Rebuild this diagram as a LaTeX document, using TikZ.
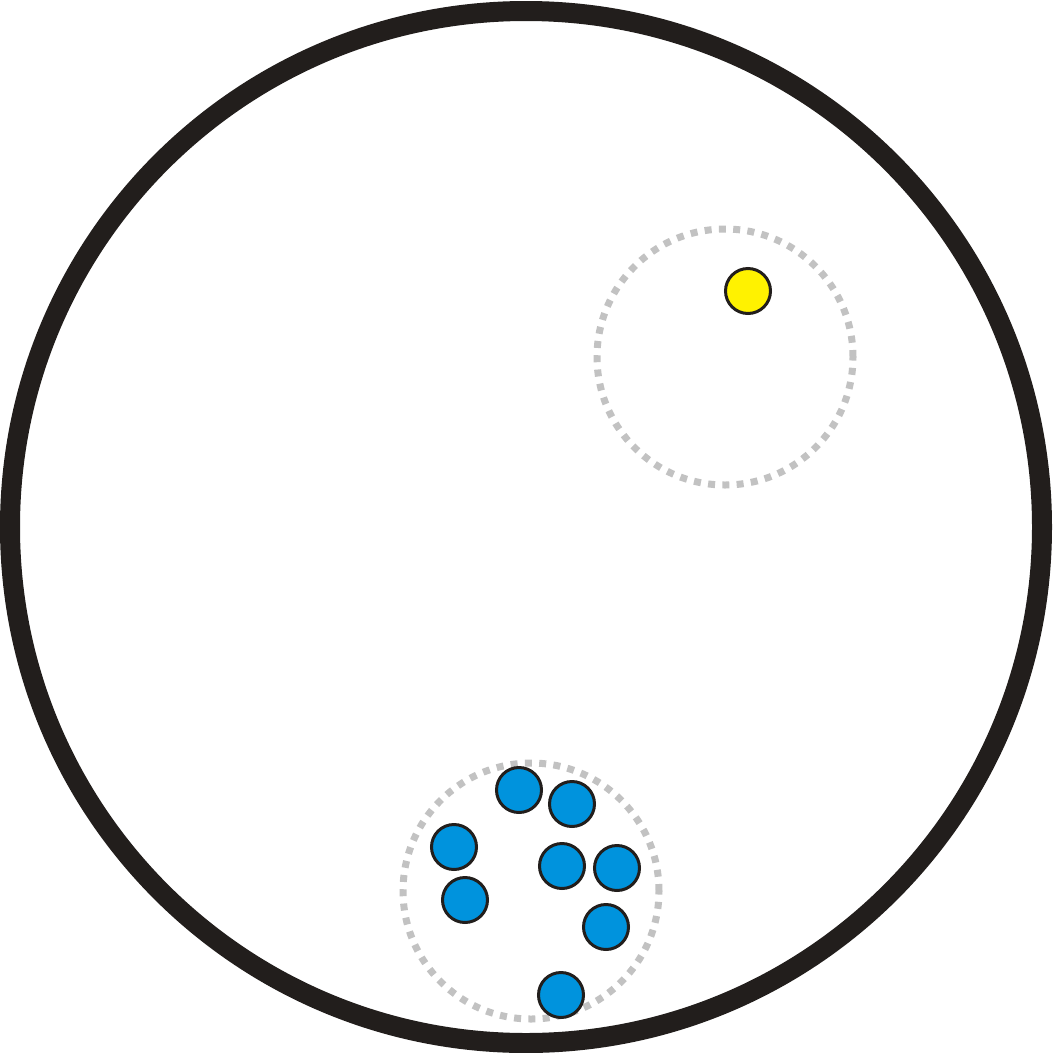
\documentclass[tikz,border=0pt]{standalone}
\definecolor{rim}{HTML}{221E1C}
\definecolor{dotgray}{HTML}{C2C2C2}
\definecolor{ballblue}{HTML}{0093DD}
\definecolor{ballyellow}{HTML}{FFF200}
\tikzset{
  ball/.style={circle, draw=rim, line width=3pt, minimum size=45pt, inner sep=0pt},
  blueball/.style={ball, fill=ballblue},
  yellowball/.style={ball, fill=ballyellow},
  zone/.style={circle, draw=dotgray, line width=7pt, dash pattern=on 7pt off 7.3pt, minimum size=256pt, inner sep=0pt},
}
\begin{document}
\begin{tikzpicture}[x=1pt,y=-1pt]
\useasboundingbox (0,0) rectangle (1053,1053);
\node[circle, draw=rim, line width=20pt, minimum size=1032pt, inner sep=0pt] (outer) at (526,527) {};
\node[zone] (zoneA) at (725,357) {};
\node[zone] (zoneB) at (531,891) {};
\node[yellowball] (y1) at (748,291) {};
\node[blueball] (b1) at (519,790) {};
\node[blueball] (b2) at (572,804) {};
\node[blueball] (b3) at (454,847) {};
\node[blueball] (b4) at (562,866) {};
\node[blueball] (b5) at (617,868) {};
\node[blueball] (b6) at (465,900) {};
\node[blueball] (b7) at (606,927) {};
\node[blueball] (b8) at (561,995) {};
\end{tikzpicture}
\end{document}
